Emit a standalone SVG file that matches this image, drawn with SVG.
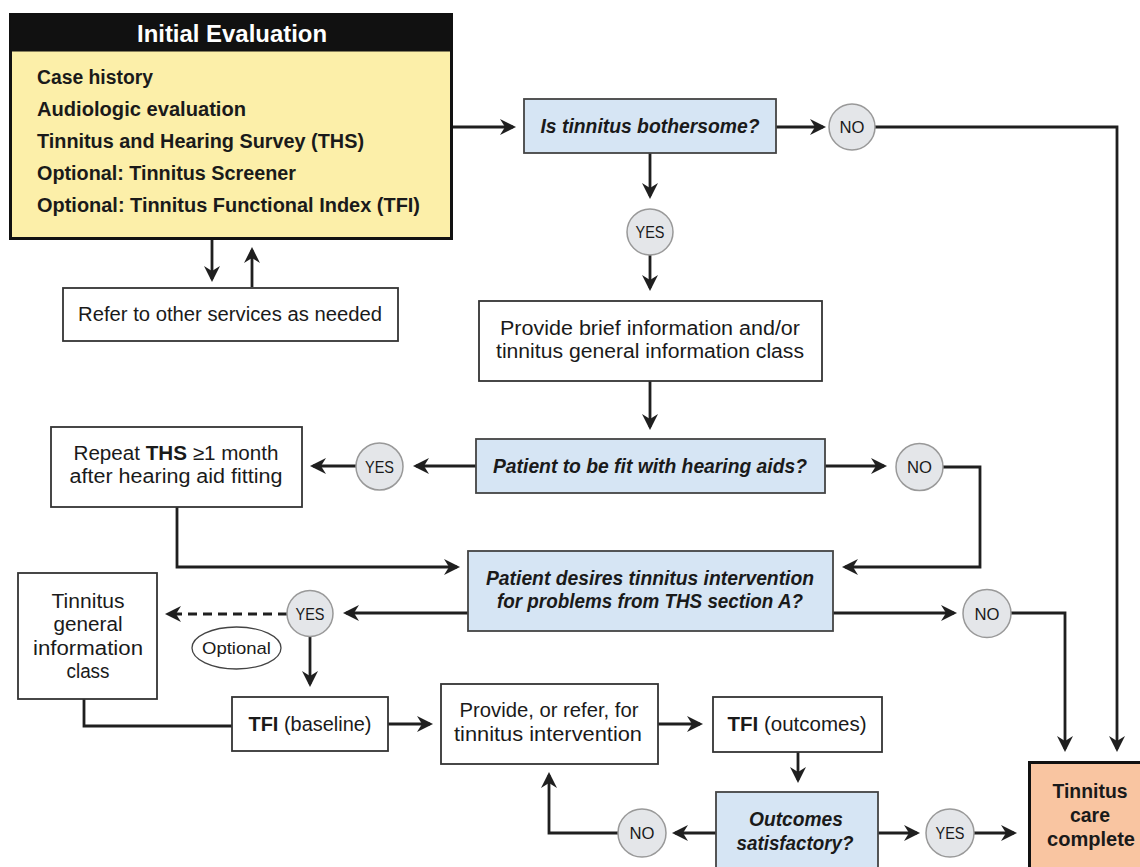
<svg xmlns="http://www.w3.org/2000/svg" width="1140" height="867" viewBox="0 0 1140 867">
<style>
text{font-family:"Liberation Sans",Arial,sans-serif;fill:#1a1a1a;}
.t{font-size:20px;text-anchor:middle;}
.b{font-weight:bold;}
.q{font-size:20px;font-weight:bold;font-style:italic;text-anchor:middle;}
.c{font-size:17px;text-anchor:middle;}
.box{fill:#fff;stroke:#333;stroke-width:1.8;}
.dec{fill:#d6e5f4;stroke:#444;stroke-width:1.8;}
.circ{fill:#e4e6e9;stroke:#999;stroke-width:1.5;}
.ln{fill:none;stroke:#1f1f1f;stroke-width:2.8;}
.arr{marker-end:url(#ah);}
.dash{stroke-dasharray:9 6;}
</style>
<defs>
<marker id="ah" markerUnits="userSpaceOnUse" markerWidth="18" markerHeight="18" refX="13" refY="8" orient="auto">
<path d="M0,0 L16,8 L0,16 L5,8 Z" fill="#1f1f1f"/>
</marker>
</defs>
<rect width="1140" height="867" fill="#fff"/>

<g id="connectors">
<path class="ln arr" d="M452,127 H513"/>
<path class="ln arr" d="M776,127 H823"/>
<path class="ln arr" d="M875,127 H1117 V749"/>
<path class="ln arr" d="M650,153 V196"/>
<path class="ln arr" d="M650,255 V288"/>
<path class="ln arr" d="M650,381 V427"/>
<path class="ln arr" d="M476,466 H416"/>
<path class="ln arr" d="M356,466 H313"/>
<path class="ln arr" d="M825,466 H884"/>
<path class="ln arr" d="M943,467 H980 V567 H845"/>
<path class="ln arr" d="M177,507 V567 H457"/>
<path class="ln arr" d="M468,613 H346"/>
<path class="ln arr dash" d="M287,614 H168"/>
<path class="ln arr" d="M310,637 V684"/>
<path class="ln" d="M84,699 V726 H232"/>
<path class="ln arr" d="M388,724 H430"/>
<path class="ln arr" d="M658,724 H700"/>
<path class="ln arr" d="M798,752 V780"/>
<path class="ln arr" d="M716,833 H675"/>
<path class="ln arr" d="M618,833 H549 V775"/>
<path class="ln arr" d="M878,833 H917"/>
<path class="ln arr" d="M974,833 H1014"/>
<path class="ln arr" d="M833,613 H954"/>
<path class="ln arr" d="M1011,613 H1065 V749"/>
<path class="ln arr" d="M212,239 V279"/>
<path class="ln arr" d="M252,287 V250"/>
</g>

<g id="initial-evaluation">
<rect x="10.5" y="14.5" width="441" height="224" fill="#fcefa9" stroke="#111" stroke-width="3"/>
<rect x="10.5" y="14.5" width="441" height="37" fill="#111"/>
<text x="232" y="42" class="b" style="font-size:24px;fill:#fff;text-anchor:middle" textLength="190" lengthAdjust="spacingAndGlyphs">Initial Evaluation</text>
<text x="37" y="84" class="b" style="font-size:20px" textLength="116" lengthAdjust="spacingAndGlyphs">Case history</text>
<text x="37" y="116" class="b" style="font-size:20px" textLength="209" lengthAdjust="spacingAndGlyphs">Audiologic evaluation</text>
<text x="37" y="148" class="b" style="font-size:20px" textLength="327" lengthAdjust="spacingAndGlyphs">Tinnitus and Hearing Survey (THS)</text>
<text x="37" y="180" class="b" style="font-size:20px" textLength="259" lengthAdjust="spacingAndGlyphs">Optional: Tinnitus Screener</text>
<text x="37" y="212" class="b" style="font-size:20px" textLength="383" lengthAdjust="spacingAndGlyphs">Optional: Tinnitus Functional Index (TFI)</text>
</g>

<g id="refer-services">
<rect class="box" x="63" y="288" width="335" height="53"/>
<text class="t" x="230" y="321" textLength="304" lengthAdjust="spacingAndGlyphs">Refer to other services as needed</text>
</g>

<g id="is-bothersome">
<rect class="dec" x="524" y="99" width="252" height="54"/>
<text class="q" x="650" y="133" textLength="219" lengthAdjust="spacingAndGlyphs">Is tinnitus bothersome?</text>
</g>

<g id="no-1">
<circle class="circ" cx="852" cy="127" r="23"/>
<text class="c" x="852" y="133" textLength="25" lengthAdjust="spacingAndGlyphs">NO</text>
</g>

<g id="yes-1">
<circle class="circ" cx="650" cy="232" r="23"/>
<text class="c" x="650" y="238" textLength="29" lengthAdjust="spacingAndGlyphs">YES</text>
</g>

<g id="provide-brief">
<rect class="box" x="479" y="301" width="343" height="80"/>
<text class="t" x="650" y="335" textLength="300" lengthAdjust="spacingAndGlyphs">Provide brief information and/or</text>
<text class="t" x="650" y="358" textLength="308" lengthAdjust="spacingAndGlyphs">tinnitus general information class</text>
</g>

<g id="fit-hearing-aids">
<rect class="dec" x="476" y="439" width="349" height="54"/>
<text class="q" x="650" y="473" textLength="314" lengthAdjust="spacingAndGlyphs">Patient to be fit with hearing aids?</text>
</g>

<g id="yes-2">
<circle class="circ" cx="379.5" cy="466.5" r="23.5"/>
<text class="c" x="379.5" y="472.5" textLength="29" lengthAdjust="spacingAndGlyphs">YES</text>
</g>

<g id="no-2">
<circle class="circ" cx="919.5" cy="467" r="23.5"/>
<text class="c" x="919.5" y="473" textLength="25" lengthAdjust="spacingAndGlyphs">NO</text>
</g>

<g id="repeat-ths">
<rect class="box" x="51" y="427" width="251" height="80"/>
<text class="t" x="176" y="460" textLength="205" lengthAdjust="spacingAndGlyphs">Repeat <tspan class="b">THS</tspan> ≥1 month</text>
<text class="t" x="176" y="483" textLength="213" lengthAdjust="spacingAndGlyphs">after hearing aid fitting</text>
</g>

<g id="desires-intervention">
<rect class="dec" x="468" y="551" width="365" height="80"/>
<text class="q" x="650" y="585" textLength="328" lengthAdjust="spacingAndGlyphs">Patient desires tinnitus intervention</text>
<text class="q" x="650" y="608" textLength="306" lengthAdjust="spacingAndGlyphs">for problems from THS section A?</text>
</g>

<g id="yes-3">
<circle class="circ" cx="310" cy="613.5" r="23"/>
<text class="c" x="310" y="619.5" textLength="29" lengthAdjust="spacingAndGlyphs">YES</text>
</g>

<g id="no-3">
<circle class="circ" cx="987" cy="613.5" r="24"/>
<text class="c" x="987" y="619.5" textLength="25" lengthAdjust="spacingAndGlyphs">NO</text>
</g>

<g id="general-info-class">
<rect class="box" x="18" y="573" width="139" height="126"/>
<text class="t" x="88" y="608" textLength="73" lengthAdjust="spacingAndGlyphs">Tinnitus</text>
<text class="t" x="88" y="631" textLength="69" lengthAdjust="spacingAndGlyphs">general</text>
<text class="t" x="88" y="655" textLength="110" lengthAdjust="spacingAndGlyphs">information</text>
<text class="t" x="88" y="678" textLength="43" lengthAdjust="spacingAndGlyphs">class</text>
</g>

<g id="optional-label">
<ellipse cx="236.5" cy="648" rx="44.5" ry="21" fill="#fff" stroke="#444" stroke-width="1.3"/>
<text x="236.5" y="654" style="font-size:17px;text-anchor:middle" textLength="69" lengthAdjust="spacingAndGlyphs">Optional</text>
</g>

<g id="tfi-baseline">
<rect class="box" x="232" y="697" width="156" height="54"/>
<text class="t" x="310" y="731" textLength="123" lengthAdjust="spacingAndGlyphs"><tspan class="b">TFI</tspan> (baseline)</text>
</g>

<g id="provide-intervention">
<rect class="box" x="441" y="684" width="217" height="80"/>
<text class="t" x="549" y="717" textLength="179" lengthAdjust="spacingAndGlyphs">Provide, or refer, for</text>
<text class="t" x="548" y="741" textLength="188" lengthAdjust="spacingAndGlyphs">tinnitus intervention</text>
</g>

<g id="tfi-outcomes">
<rect class="box" x="713" y="697" width="169" height="55"/>
<text class="t" x="797" y="731" textLength="139" lengthAdjust="spacingAndGlyphs"><tspan class="b">TFI</tspan> (outcomes)</text>
</g>

<g id="outcomes-satisfactory">
<rect class="dec" x="716" y="792" width="162" height="90"/>
<text class="q" x="796" y="826" textLength="94" lengthAdjust="spacingAndGlyphs">Outcomes</text>
<text class="q" x="795" y="850" textLength="117" lengthAdjust="spacingAndGlyphs">satisfactory?</text>
</g>

<g id="no-4">
<circle class="circ" cx="642" cy="833" r="24"/>
<text class="c" x="642" y="839" textLength="25" lengthAdjust="spacingAndGlyphs">NO</text>
</g>

<g id="yes-4">
<circle class="circ" cx="950" cy="833" r="24"/>
<text class="c" x="950" y="839" textLength="29" lengthAdjust="spacingAndGlyphs">YES</text>
</g>

<g id="care-complete">
<rect x="1029.5" y="762.5" width="130" height="120" fill="#f9c5a1" stroke="#111" stroke-width="3"/>
<text class="t b" x="1090" y="798" textLength="75" lengthAdjust="spacingAndGlyphs">Tinnitus</text>
<text class="t b" x="1090" y="822" textLength="40" lengthAdjust="spacingAndGlyphs">care</text>
<text class="t b" x="1091" y="846" textLength="88" lengthAdjust="spacingAndGlyphs">complete</text>
</g>
</svg>
